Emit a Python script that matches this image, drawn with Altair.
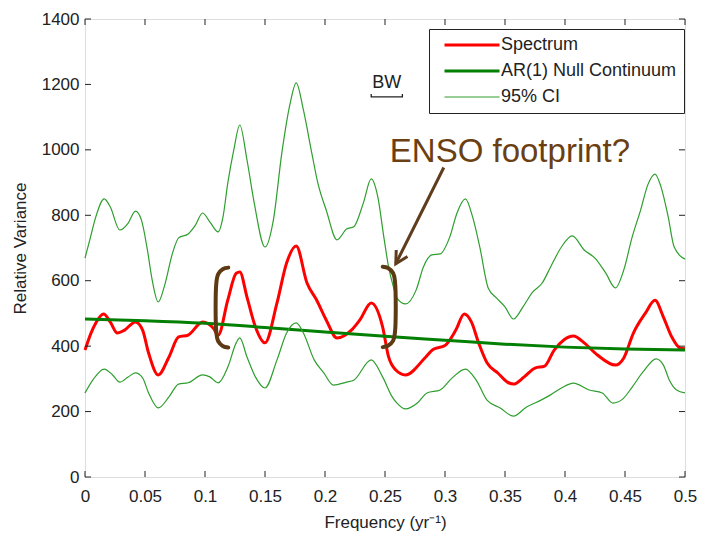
import altair as alt
import pandas as pd

# ---------------- data ----------------
spec_f = [0.000, 0.005, 0.009, 0.0155, 0.021, 0.027, 0.033, 0.042, 0.048, 0.053,
          0.061, 0.070, 0.078, 0.086, 0.098, 0.107, 0.111, 0.119, 0.126, 0.129,
          0.135, 0.142, 0.150, 0.160, 0.168, 0.176, 0.185, 0.193, 0.201, 0.210,
          0.222, 0.229, 0.2385, 0.248, 0.253, 0.259, 0.267, 0.284, 0.290, 0.300,
          0.309, 0.316, 0.322, 0.328, 0.335, 0.344, 0.352, 0.357, 0.366, 0.375,
          0.383, 0.391, 0.399, 0.407, 0.416, 0.427, 0.442, 0.449, 0.457, 0.467,
          0.475, 0.482, 0.489, 0.496, 0.500]
spec_v = [388, 440, 471, 498, 474, 440, 449, 474, 449, 379,
          312, 367, 428, 434, 474, 455, 434, 541, 623, 627,
          550, 459, 410, 532, 654, 706, 593, 541, 480, 425,
          449, 480, 532, 459, 367, 327, 312, 367, 390, 402,
          449, 498, 474, 410, 349, 318, 290, 284, 306, 333,
          339, 388, 419, 431, 410, 373, 342, 364, 440, 501,
          540, 489, 428, 394, 392]

ar_f = [0.0, 0.05, 0.1, 0.15, 0.2, 0.25, 0.3, 0.35, 0.4, 0.45, 0.5]
ar_v = [483, 478, 470, 457, 443, 430, 418, 406, 397, 391, 388]

up_f = [0, 0.004, 0.009, 0.016, 0.021, 0.029, 0.036, 0.042, 0.047, 0.052,
        0.056, 0.061, 0.066, 0.073, 0.078, 0.086, 0.092, 0.098, 0.104, 0.111,
        0.115, 0.119, 0.124, 0.129, 0.135, 0.141, 0.150, 0.157, 0.164, 0.171,
        0.176, 0.182, 0.189, 0.194, 0.201, 0.210, 0.218, 0.224, 0.232, 0.2385,
        0.244, 0.249, 0.253, 0.257, 0.260, 0.267, 0.276, 0.282, 0.289, 0.296,
        0.304, 0.310, 0.317, 0.323, 0.329, 0.336, 0.343, 0.350, 0.357, 0.365,
        0.373, 0.381, 0.388, 0.397, 0.406, 0.416, 0.425, 0.434, 0.442, 0.449,
        0.456, 0.463, 0.469, 0.475, 0.480, 0.486, 0.491, 0.500]
up_v = [669, 725, 795, 850, 826, 755, 776, 813, 786, 694,
        602, 535, 581, 685, 731, 743, 770, 807, 780, 749,
        795, 899, 1000, 1076, 969, 838, 703, 786, 990, 1143,
        1205, 1122, 990, 899, 816, 725, 758, 765, 838, 911,
        856, 734, 642, 581, 547, 529, 572, 642, 679, 682,
        734, 807, 850, 795, 703, 578, 547, 520, 483, 520,
        565, 593, 642, 703, 737, 694, 669, 623, 578, 633,
        734, 816, 893, 926, 887, 795, 703, 666]

lo_f = [0, 0.0066, 0.016, 0.023, 0.029, 0.036, 0.042, 0.048, 0.053, 0.061,
        0.070, 0.078, 0.086, 0.098, 0.104, 0.111, 0.119, 0.126, 0.129, 0.135,
        0.142, 0.150, 0.160, 0.168, 0.176, 0.182, 0.191, 0.199, 0.207, 0.218,
        0.224, 0.2385, 0.248, 0.256, 0.260, 0.267, 0.277, 0.285, 0.296, 0.306,
        0.317, 0.326, 0.335, 0.346, 0.357, 0.368, 0.380, 0.388, 0.397, 0.407,
        0.420, 0.431, 0.440, 0.448, 0.456, 0.465, 0.476, 0.482, 0.487, 0.493,
        0.500]
lo_v = [257, 297, 330, 312, 290, 306, 318, 303, 257, 211,
        245, 284, 288, 312, 306, 288, 336, 410, 425, 367,
        306, 272, 358, 440, 471, 440, 358, 318, 281, 290,
        296, 358, 306, 245, 226, 208, 226, 257, 266, 303,
        330, 296, 235, 211, 186, 214, 235, 251, 272, 287,
        266, 257, 226, 238, 275, 321, 361, 342, 296, 266,
        257]

series_names = ["Spectrum", "AR(1) Null Continuum", "95% CI"]

x_ticks = [0, 0.05, 0.1, 0.15, 0.2, 0.25, 0.3, 0.35, 0.4, 0.45, 0.5]
y_ticks = [0, 200, 400, 600, 800, 1000, 1200, 1400]

# annotations (data coordinates)
left_br_f = [0.1194, 0.1150, 0.1110, 0.1095, 0.1095, 0.1110, 0.1150, 0.1194]
left_br_v = [640, 636, 620, 595, 440, 415, 400, 396]
right_br_f = [0.2481, 0.2525, 0.2568, 0.2583, 0.2583, 0.2568, 0.2525, 0.2481]
right_br_v = [643, 639, 623, 598, 442, 417, 401, 397]
arrow_f = [0.2990, 0.2590]
arrow_v = [946, 652]
bw_f = [0.2385, 0.2385, 0.2645, 0.2645]
bw_v = [1171, 1162, 1162, 1171]
bw_label = {"f": 0.2515, "v": 1204, "t": "BW"}
enso_label = {"f": 0.2540, "v": 963, "t": "ENSO footprint?"}

# ---------------- build tables ----------------
rows = []
for f, v in zip(spec_f, spec_v):
    rows.append({"f": f, "v": v, "series": "Spectrum", "band": "spec"})
for f, v in zip(ar_f, ar_v):
    rows.append({"f": f, "v": v, "series": "AR(1) Null Continuum", "band": "ar"})
for f, v in zip(up_f, up_v):
    rows.append({"f": f, "v": v, "series": "95% CI", "band": "up"})
for f, v in zip(lo_f, lo_v):
    rows.append({"f": f, "v": v, "series": "95% CI", "band": "lo"})
df = pd.DataFrame(rows)

br_rows = []
for i, (f, v) in enumerate(zip(left_br_f, left_br_v)):
    br_rows.append({"f": f, "v": v, "b": "L", "o": i})
for i, (f, v) in enumerate(zip(right_br_f, right_br_v)):
    br_rows.append({"f": f, "v": v, "b": "R", "o": i})
df_br = pd.DataFrame(br_rows)
df_arrow = pd.DataFrame({"f": arrow_f, "v": arrow_v, "o": [0, 1]})
df_head = pd.DataFrame({"f": [arrow_f[-1]], "v": [arrow_v[-1]]})
df_bw = pd.DataFrame({"f": bw_f, "v": bw_v, "o": list(range(len(bw_f)))})
df_bwt = pd.DataFrame([bw_label])
df_enso = pd.DataFrame([enso_label])
df_xt = pd.DataFrame({"f": x_ticks})
df_yt = pd.DataFrame({"v": y_ticks})

FONT = "Liberation Sans"
INK = "#222222"
BROWN = "#6b3f12"
W, H = 600, 458

xs = alt.Scale(domain=[0, 0.5], nice=False, zero=False)
ys = alt.Scale(domain=[0, 1400], nice=False)

x_axis = alt.Axis(values=x_ticks, format="~g", ticks=False, tickSize=0, domain=False,
                  grid=False, labelFlush=False, labelOverlap=False, labelPadding=11,
                  labelFontSize=17, labelColor=INK, labelFont=FONT,
                  title="Frequency (yr⁻¹)", titleFontSize=17, titleFontWeight="normal",
                  titleColor=INK, titleFont=FONT, titlePadding=10)
y_axis = alt.Axis(values=y_ticks, format="d", ticks=False, tickSize=0, domain=False,
                  grid=False, labelFlush=False, labelOverlap=False, labelPadding=6,
                  labelFontSize=17, labelColor=INK, labelFont=FONT,
                  title="Relative Variance", titleFontSize=17, titleFontWeight="normal",
                  titleColor=INK, titleFont=FONT, titlePadding=12)

X = alt.X("f:Q", scale=xs, axis=x_axis)
Y = alt.Y("v:Q", scale=ys, axis=y_axis)

legend = alt.Legend(orient="none", legendX=344, legendY=10, title=None,
                    symbolType="M -5.5 0 L 5.5 0", symbolSize=100, symbolOffset=27,
                    labelFontSize=18, labelLimit=400,
                    labelFont=FONT, labelColor=INK, strokeColor=INK, fillColor="white",
                    padding=7, rowPadding=8, labelOffset=20)

lines = alt.Chart(df).mark_line(interpolate="monotone").encode(
    x=X, y=Y,
    color=alt.Color("series:N", scale=alt.Scale(domain=series_names,
                    range=["#ff0000", "#037f03", "#2e9e2e"]), legend=legend),
    strokeWidth=alt.StrokeWidth("series:N", scale=alt.Scale(type="ordinal", domain=series_names,
                                range=[3, 3, 1.2]), legend=legend),
    detail="band:N",
)

brackets = alt.Chart(df_br).mark_line(interpolate="catmull-rom", color="#5e3a14",
                                       strokeWidth=4, strokeCap="round").encode(
    x=X, y=Y, detail="b:N", order="o:Q")

arrow = alt.Chart(df_arrow).mark_line(color="#5e3c1c", strokeWidth=3).encode(
    x=X, y=Y, order="o:Q")

head = alt.Chart(df_head).mark_point(shape="M -0.75 -1.4 L 0 0 L 0.75 -1.4", filled=False,
                                     size=300, angle=30, color="#5e3c1c", strokeWidth=3,
                                     opacity=1).encode(x=X, y=Y)

bw = alt.Chart(df_bw).mark_line(color=INK, strokeWidth=1.3).encode(
    x=X, y=Y, order="o:Q")

bw_text = alt.Chart(df_bwt).mark_text(font=FONT, fontSize=18, color=INK,
                                      align="center", baseline="middle").encode(
    x=X, y=Y, text="t:N")

enso_text = alt.Chart(df_enso).mark_text(font=FONT, fontSize=33, color=BROWN,
                                         align="left", baseline="alphabetic").encode(
    x=X, y=Y, text="t:N")

# inward tick marks on all four sides (MATLAB box style)
xt_bottom = alt.Chart(df_xt).mark_rule(color=INK, strokeWidth=1).encode(
    x=X, y=alt.value(H), y2=alt.value(H - 6))
xt_top = alt.Chart(df_xt).mark_rule(color=INK, strokeWidth=1).encode(
    x=X, y=alt.value(0), y2=alt.value(6))
yt_left = alt.Chart(df_yt).mark_rule(color=INK, strokeWidth=1).encode(
    y=Y, x=alt.value(0), x2=alt.value(6))
yt_right = alt.Chart(df_yt).mark_rule(color=INK, strokeWidth=1).encode(
    y=Y, x=alt.value(W), x2=alt.value(W - 6))

chart = alt.layer(
    lines, xt_bottom, xt_top, yt_left, yt_right,
    brackets, arrow, head, bw, bw_text, enso_text,
).properties(
    width=W, height=H,
    autosize=alt.AutoSizeParams(type="none"),
    padding={"left": 77, "top": 11, "right": 12, "bottom": 55},
    background="white",
).configure_view(
    stroke=INK, strokeWidth=1.2
).configure(font=FONT)

chart.save("out.html", embed_options={"renderer": "svg", "actions": False})
